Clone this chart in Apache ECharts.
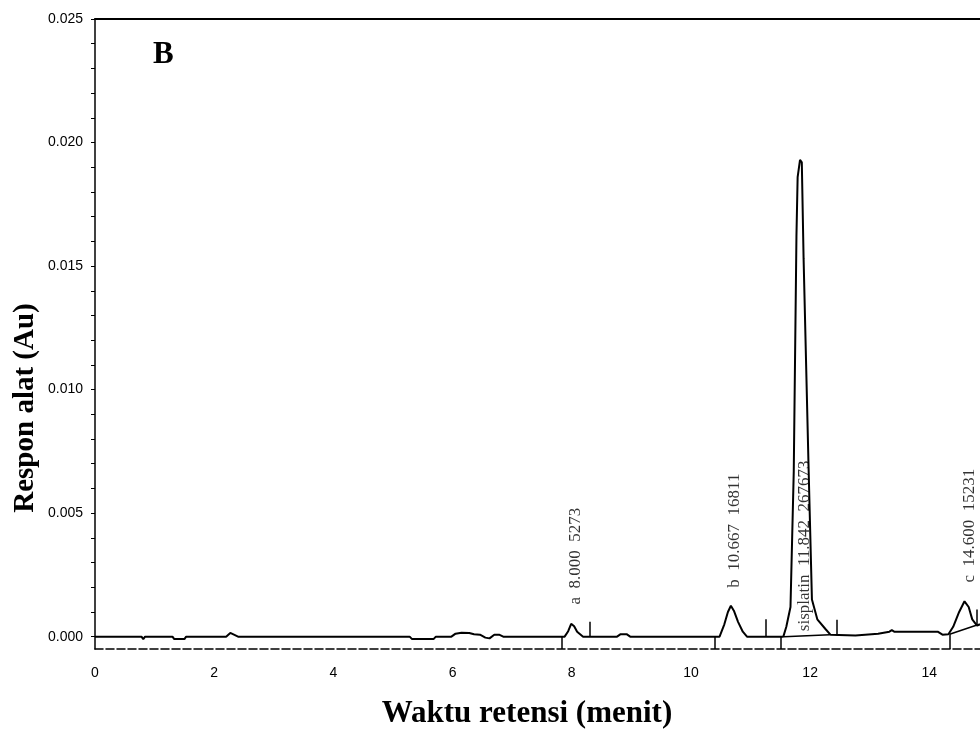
<!DOCTYPE html>
<html>
<head>
<meta charset="utf-8">
<script src="https://cdn.jsdelivr.net/npm/echarts@6/dist/echarts.min.js"></script>
<style>
html,body{margin:0;padding:0;background:#fff;}
#chart{width:980px;height:730px;}
</style>
</head>
<body>
<div id="chart"></div>
<script>
// Retention time (min) and detector response (AU) of the chromatogram trace
const retentionTime = [0,0.78,0.81,0.84,1.30,1.33,1.50,1.53,1.98,2.00,2.02,2.20,2.27,2.34,2.40,3.80,3.83,3.86,5.28,5.32,5.68,5.72,5.98,6.05,6.15,6.28,6.36,6.46,6.55,6.62,6.70,6.78,6.85,7.48,7.50,7.52,7.88,7.94,7.99,8.04,8.09,8.14,8.19,8.76,8.82,8.92,8.98,10.48,10.56,10.62,10.67,10.72,10.79,10.87,10.94,11.55,11.60,11.67,11.725,11.77,11.79,11.83,11.86,11.89,11.975,12.03,12.12,12.26,12.34,12.76,12.78,13.14,13.17,13.33,13.37,13.41,14.14,14.22,14.32,14.40,14.50,14.59,14.66,14.72,14.80,14.85];
const response = [0,0,-0.0001,0,0,-0.0001,-0.0001,0,0,-0.00005,0,0,0.00015,0.00007,0,0,-0.00008,0,0,-0.0001,-0.0001,0,0,0.00012,0.00016,0.00015,0.0001,0.00008,-0.00004,-0.00007,0.00008,0.00008,0,0,0.00006,0,0,0.00022,0.00052,0.00042,0.0002,0.0001,0,0,0.0001,0.0001,0,0,0.0005,0.001,0.00125,0.00105,0.0006,0.0002,0,0,0.0004,0.0012,0.0067,0.0162,0.0186,0.0193,0.0192,0.0153,0.0067,0.0015,0.0007,0.0003,0.00008,0.00005,0.00012,0.00012,0.0002,0.0002,0.00026,0.0002,0.0002,0.00008,0.0001,0.0004,0.001,0.00143,0.0012,0.0007,0.00045,0.0005];

// Peak annotations
const peakNames = ['a','b','sisplatin','c'];
const peakRT = ['8.000','10.667','11.842','14.600'];
const peakArea = ['5273','16811','267673','15231'];
const peakLabelTime = [8.000, 10.667, 11.842, 14.600];
const peakLabelLevel = [0.0013, 0.00198, 0.00022, 0.00219];

// Integration markers
const tickStart = [7.84, 10.40, 11.50, 14.34];
const tickStartLevel = [0, 0, 0, 0.0001];
const tickEnd = [8.30, 11.25, 12.45, 14.80];
const tickEndLevel = [0, 0, 0.00005, 0.00047];
const tickEndTop = [0.0006, 0.0007, 0.00068, 0.0011];
const baselineFrom = [[11.56, 0], [14.34, 0.0001]];
const baselineTo = [[12.33, 0.00008], [14.80, 0.00047]];

// Axes
const xMin = 0, xMax = 14.85;
const yMin = -0.0005, yMax = 0.025;
const xTickLabels = [0,2,4,6,8,10,12,14];
const yTickLabels = [0,0.005,0.010,0.015,0.020,0.025];
const yMinorTicks = Array.from({length:26}, (_, i) => Number((i*0.001).toFixed(3)));

const traceData = retentionTime.map((t, i) => [t, response[i]]);
const lineMarks = [];
tickStart.forEach((t, i) => lineMarks.push([{coord:[t, tickStartLevel[i]]},{coord:[t, yMin]}]));
tickEnd.forEach((t, i) => lineMarks.push([{coord:[t, tickEndLevel[i]]},{coord:[t, tickEndTop[i]]}]));
baselineFrom.forEach((p, i) => lineMarks.push([{coord:p},{coord:baselineTo[i]}]));

const SANS = "'Liberation Sans', Arial, sans-serif";
const SERIF = "'Liberation Serif', 'Times New Roman', serif";

const chart = echarts.init(document.getElementById('chart'), null, {renderer:'canvas'});
chart.setOption({
  animation: false,
  backgroundColor: '#fff',
  grid: {left: 95, right: 0, top: 19, bottom: 81, containLabel: false},
  xAxis: [{
    type: 'value', min: xMin, max: xMax, position: 'bottom',
    axisLine: {show: true, onZero: false, lineStyle: {color: '#000', width: 1.5, type: [8, 3]}},
    axisTick: {show: false},
    splitLine: {show: false},
    axisLabel: {customValues: xTickLabels, color: '#000', fontFamily: SANS, fontSize: 14, margin: 17}
  }, {
    type: 'value', min: xMin, max: xMax, position: 'top',
    axisLine: {show: true, onZero: false, lineStyle: {color: '#000', width: 2}},
    axisTick: {show: false}, axisLabel: {show: false}, splitLine: {show: false}
  }],
  yAxis: {
    type: 'value', min: yMin, max: yMax,
    axisLine: {show: true, onZero: false, lineStyle: {color: '#000', width: 1.5}},
    axisTick: {show: true, customValues: yMinorTicks, length: 4, lineStyle: {color: '#000', width: 1}},
    axisLabel: {customValues: yTickLabels, formatter: v => v.toFixed(3), color: '#000', fontFamily: SANS, fontSize: 14, margin: 12},
    splitLine: {show: false}
  },
  graphic: [
    {type: 'text', x: 153, y: 55, style: {text: 'B', font: 'bold 31px ' + SERIF, fill: '#000', textAlign: 'left', textVerticalAlign: 'middle'}},
    {type: 'text', x: 26, y: 408, rotation: Math.PI/2, style: {text: 'Respon alat (Au)', font: 'bold 29px ' + SERIF, fill: '#000', textAlign: 'center', textVerticalAlign: 'middle'}},
    {type: 'text', x: 527, y: 714, style: {text: 'Waktu retensi (menit)', font: 'bold 31px ' + SERIF, fill: '#000', textAlign: 'center', textVerticalAlign: 'middle'}}
  ],
  series: [{
    type: 'line',
    data: traceData,
    showSymbol: false,
    symbol: 'none',
    lineStyle: {color: '#000', width: 2},
    z: 3,
    markLine: {
      silent: true, symbol: ['none','none'], label: {show: false},
      lineStyle: {color: '#000', width: 1.5, type: 'solid'},
      data: lineMarks
    }
  }, {
    type: 'scatter',
    symbolSize: 0,
    data: peakLabelTime.map((t, i) => [t, peakLabelLevel[i]]),
    label: {
      show: true, position: [0, 0], rotate: 90, align: 'left', verticalAlign: 'middle',
      offset: [0, 4],
      fontFamily: SERIF, fontSize: 17, color: '#000',
      formatter: p => peakNames[p.dataIndex] + '  ' + peakRT[p.dataIndex] + '  ' + peakArea[p.dataIndex]
    }
  }]
});
</script>
</body>
</html>
